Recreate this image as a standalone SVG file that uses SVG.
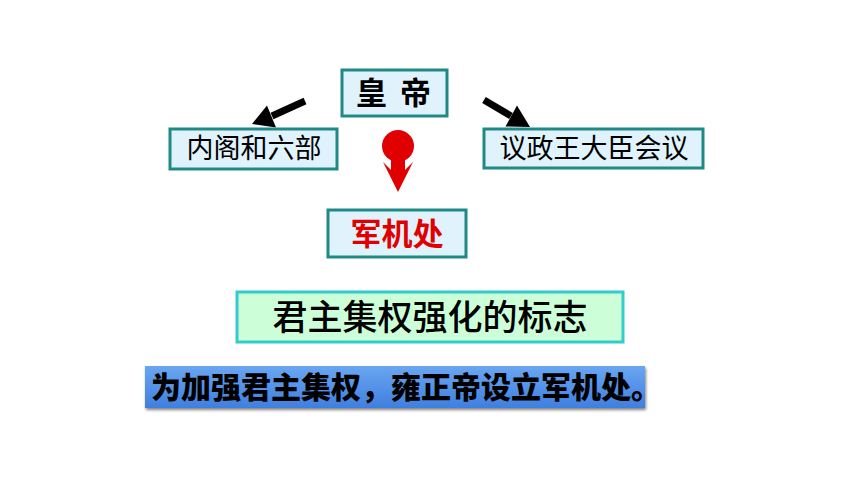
<svg xmlns="http://www.w3.org/2000/svg" width="860" height="484" viewBox="0 0 860 484">
<style>
.box{fill:#e0f3fd;stroke:#1f8a85;stroke-width:3}
.t{font-family:"Noto Sans CJK SC","Noto Sans",sans-serif;text-anchor:middle}
</style>
<defs>
<linearGradient id="blue" x1="0" y1="0" x2="0" y2="1">
<stop offset="0" stop-color="#6aa6f0"/>
<stop offset="1" stop-color="#3f7fe0"/>
</linearGradient>
<filter id="sh" x="-5%" y="-20%" width="110%" height="150%">
<feGaussianBlur in="SourceAlpha" stdDeviation="1.5"/>
<feOffset dx="1" dy="2"/>
<feComponentTransfer><feFuncA type="linear" slope="0.5"/></feComponentTransfer>
<feMerge><feMergeNode/><feMergeNode in="SourceGraphic"/></feMerge>
</filter>
</defs>
<rect width="860" height="484" fill="#ffffff"/>
<g id="connectors">
<line x1="305" y1="101" x2="272" y2="116" stroke="#000" stroke-width="7"/>
<polygon points="252,124 276,127.5 267,105.5" fill="#000"/>
<line x1="484" y1="100" x2="511" y2="116" stroke="#000" stroke-width="7"/>
<polygon points="530,127 505.5,126.5 517,105.5" fill="#000"/>
<g id="red-arrow" fill="#e00000">
<circle cx="398" cy="146" r="16"/>
<polygon points="391,150 391,170 383,162 398,192 413,162 405,170 405,150"/>
</g>
</g>
<g id="node-huangdi">
<rect class="box" x="342" y="70" width="105" height="46"/>
<text class="t" x="395" y="104" font-size="31" font-weight="bold" fill="#000" letter-spacing="3">皇 帝</text>
</g>
<g id="node-neige">
<rect class="box" x="170" y="129" width="167" height="40"/>
<text class="t" x="254" y="158" font-size="27" fill="#000">内阁和六部</text>
</g>
<g id="node-yizheng">
<rect class="box" x="484" y="129" width="219" height="39"/>
<text class="t" x="594" y="158" font-size="27" fill="#000">议政王大臣会议</text>
</g>
<g id="node-junjichu">
<rect class="box" x="328" y="210" width="138" height="47"/>
<text class="t" x="397" y="245" font-size="31" font-weight="bold" fill="#e00000">军机处</text>
</g>
<g id="node-biaozhi">
<rect x="237" y="292" width="386" height="50" fill="#ccffd8" stroke="#33cccc" stroke-width="3"/>
<text class="t" x="430" y="330" font-size="35" font-weight="500" fill="#000">君主集权强化的标志</text>
</g>
<g id="node-banner">
<rect x="145" y="366" width="500" height="42" fill="url(#blue)" filter="url(#sh)"/>
<text x="151" y="398" font-family="'Noto Sans CJK SC','Noto Sans',sans-serif" font-size="30" font-weight="900" fill="#000">为加强君主集权，雍正帝设立军机处。</text>
</g>
</svg>
